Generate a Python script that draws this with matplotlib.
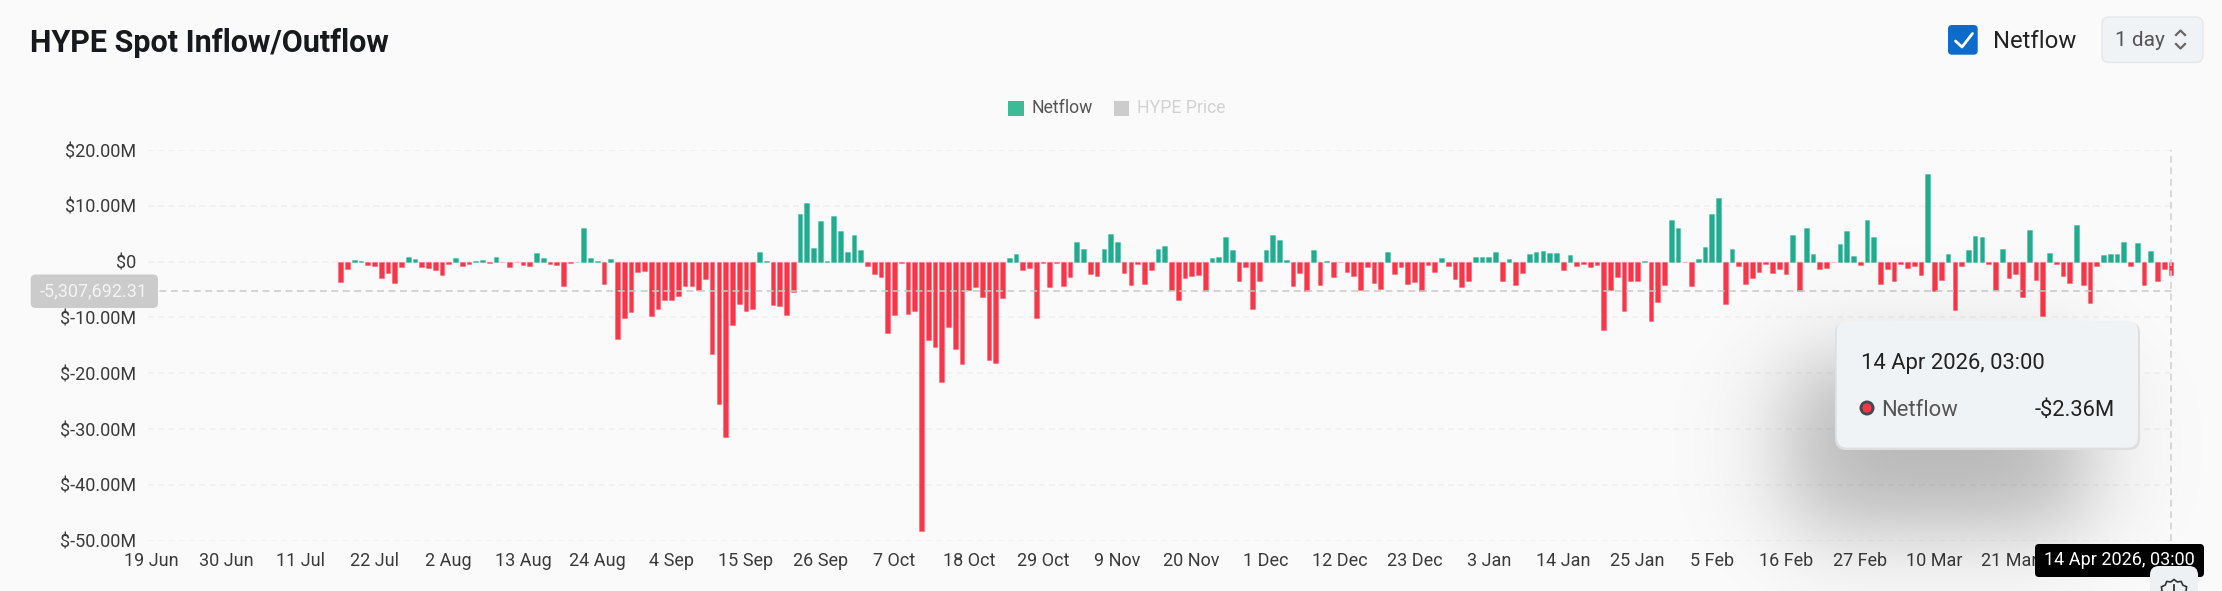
import numpy as np
import pandas as pd
import matplotlib
matplotlib.use("Agg")
import matplotlib.pyplot as plt
import matplotlib.dates as mdates
from matplotlib.patches import FancyBboxPatch, Rectangle, Circle, Polygon

plt.rcParams['font.family'] = ['Roboto', 'DejaVu Sans']

# daily netflow in $M, 17 Jul 2025 -> 14 Apr 2026
netflow = [
    -3.7, -1.4, 0.25, 0.15, -0.65, -0.7, -2.9, -2.0, -3.8, -0.95,
    0.8, 0.55, -0.95, -1.2, -1.45, -2.4, -0.5, 0.7, -0.8, -0.35,
    0.2, 0.25, -0.3, 0.8, -0.1, -0.9, -0.05, -0.6, -0.7, 1.5,
    0.7, -0.4, -0.65, -4.4, -0.25, 0.02, 6.1, 0.6, 0.1, -3.95,
    0.5, -13.85, -10.15, -9.1, -1.85, -1.6, -9.7, -8.5, -6.9, -6.85,
    -6.2, -4.3, -4.3, -5.1, -3.2, -16.6, -25.5, -31.4, -11.4, -7.65,
    -8.85, -8.5, 1.75, 0.05, -7.75, -7.95, -9.5, -5.4, 8.6, 10.55,
    2.5, 7.35, 0.2, 8.2, 5.45, 1.75, 4.85, 2.0, -0.85, -2.15,
    -2.7, -12.85, -9.65, -0.25, -9.3, -8.85, -48.2, -14.0, -15.35, -21.5,
    -11.8, -15.7, -18.4, -5.15, -4.5, -6.35, -17.6, -18.15, -6.6, 0.6,
    1.35, -1.55, -1.2, -10.1, -0.3, -4.55, -0.2, -4.3, -2.8, 3.5,
    2.35, -2.15, -2.5, 2.2, 5.0, 3.6, -2.0, -4.1, -0.5, -4.05,
    -1.5, 2.25, 2.85, -5.0, -6.8, -3.0, -2.5, -2.35, -5.35, 0.65,
    0.85, 4.5, 2.0, -3.45, -0.95, -8.4, -3.5, 2.15, 4.7, 3.95,
    0.25, -4.35, -2.0, -5.35, 2.15, -4.1, 0.1, -2.75, -0.05, -1.9,
    -2.5, -5.15, -0.95, -3.75, -4.9, 1.65, -2.15, -0.9, -3.95, -3.7,
    -5.3, -0.6, -1.8, 0.65, -0.8, -3.1, -4.55, -3.5, 0.8, 0.8,
    0.8, 1.8, -3.5, 0.5, -4.25, -2.0, 1.45, 1.7, 1.9, 1.6,
    1.5, -1.45, 1.1, -0.75, -0.5, -1.0, -0.55, -12.3, -5.1, -2.8,
    -8.8, -3.45, -3.4, 0.1, -10.6, -7.15, -4.25, 7.4, 6.1, -0.1,
    -4.45, 0.4, 2.6, 8.5, 11.45, -7.6, 2.25, -0.85, -4.0, -2.85,
    -1.8, -0.4, -2.1, -1.4, -2.25, 4.8, -5.35, 5.95, 1.3, -1.4,
    -1.15, -0.1, 3.2, 5.4, 1.05, -0.6, 7.5, 4.4, -4.0, -1.25,
    -3.45, -0.4, -1.1, -0.75, -2.35, 15.65, -5.35, -3.3, 1.4, -8.65,
    -0.75, 2.05, 4.55, 4.5, -0.35, -5.05, 2.2, -2.9, -2.25, -6.25,
    5.75, -3.25, -9.7, 1.5, -0.35, -2.65, -3.9, 6.6, -4.15, -7.5,
    -0.75, 1.1, 1.35, 1.3, 3.6, -0.85, 3.4, -4.25, 1.95, -3.5,
    -1.4, -2.36,
]
y_ticks = [20, 10, 0, -10, -20, -30, -40, -50]
y_labels = ['$20.00M', '$10.00M', '$0', '$-10.00M', '$-20.00M', '$-30.00M', '$-40.00M', '$-50.00M']
x_ticks = ['2025-06-19', '2025-06-30', '2025-07-11', '2025-07-22', '2025-08-02', '2025-08-13',
           '2025-08-24', '2025-09-04', '2025-09-15', '2025-09-26', '2025-10-07', '2025-10-18',
           '2025-10-29', '2025-11-09', '2025-11-20', '2025-12-01', '2025-12-12', '2025-12-23',
           '2026-01-03', '2026-01-14', '2026-01-25', '2026-02-05', '2026-02-16', '2026-02-27',
           '2026-03-10', '2026-03-21']
last_day = '2026-04-14'
cursor_value = -5.30769231

W, H = 2222, 591
BG = '#fafafa'
GREEN = '#20ad8e'
RED = '#f73649'
TICK = '#3a3a3a'

fig = plt.figure(figsize=(W / 100, H / 100), dpi=100, facecolor=BG)

# plot area in pixels
left, right, top, bottom = 148, 2174, 150, 540.7
ax = fig.add_axes([left / W, 1 - bottom / H, (right - left) / W, (bottom - top) / H], facecolor='none')

dates = pd.date_range(end=last_day, periods=len(netflow))
xs = mdates.date2num(dates)
vals = np.array(netflow)
cols = [GREEN if v >= 0 else RED for v in vals]
edges = [(0.13, 0.68, 0.56, 0.3) if v >= 0 else (0.97, 0.21, 0.29, 0.3) for v in vals]

ax.bar(xs, vals, width=0.7, color=cols, edgecolor=edges, linewidth=0.8, zorder=3)

px_per_day = 6.754
ax.set_xlim(xs[-1] + (left - 2171) / px_per_day, xs[-1] + (right - 2171) / px_per_day)
ax.set_ylim(-50, 20)

ax.set_yticks(y_ticks)
ax.set_yticklabels(y_labels)
tick_days = pd.to_datetime(x_ticks)
ax.set_xticks(mdates.date2num(tick_days))
ax.set_xticklabels([f"{d.day} {d.strftime('%b')}" for d in tick_days])
ax.tick_params(axis='both', length=0, labelsize=13, labelcolor=TICK)
ax.tick_params(axis='y', pad=8.5)
ax.tick_params(axis='x', pad=8)
for s in ax.spines.values():
    s.set_visible(False)
ax.grid(axis='y', color='#efefef', linewidth=1.1, linestyle=(0, (4, 2.7)), zorder=0)
ax.set_axisbelow(True)

# hover crosshair
ax.axhline(cursor_value, color='#c9c9c9', linewidth=1.1, linestyle=(0, (4.5, 3)), zorder=4)
ax.axvline(xs[-1], color='#cfcfcf', linewidth=1.1, linestyle=(0, (4.5, 3)), zorder=4)

# everything else is page furniture, drawn in pixel coords on a full size overlay
ov = fig.add_axes([0, 0, 1, 1], facecolor='none', zorder=5)
ov.axis('off')

# big blurry tooltip shadow
gx, gy = np.meshgrid(np.arange(1500, W), np.arange(230, H))
s = 56.0
sx = 0.5 * (np.tanh((gx - 1790) / s) - np.tanh((gx - 2085) / s))
sy = 0.5 * (np.tanh((gy - 365) / s) - np.tanh((gy - 525) / s))
shadow = np.zeros(gx.shape + (4,))
shadow[..., 3] = 0.29 * sx * sy
ov.imshow(shadow, extent=(1500, W, H, 230), aspect='auto', zorder=1, interpolation='bilinear')

ov.set_xlim(0, W)
ov.set_ylim(H, 0)


def box(x0, y0, x1, y1, fc, ec='none', r=6, z=2, lw=1.0):
    p = FancyBboxPatch((x0, y0), x1 - x0, y1 - y0, boxstyle=f"round,pad=0,rounding_size={r}",
                       fc=fc, ec=ec, lw=lw, zorder=z)
    ov.add_patch(p)


# title and top right controls
ov.text(30.5, 43.5, 'HYPE Spot Inflow/Outflow', fontsize=22, fontweight='bold', color='#17191c', va='center', ha='left')
box(1948, 25, 1977.7, 54.7, '#0d6bcb', r=4)
ov.plot([1955.5, 1962, 1972.5], [41, 47, 33.5], color='white', lw=2, solid_capstyle='round', zorder=3)
ov.text(1993, 42, 'Netflow', fontsize=17.2, color='#222222', va='center', ha='left')
box(2102, 17, 2203, 62.5, '#f0f3f6', ec='#e4e7eb', r=7)
ov.text(2115, 41, '1 day', fontsize=15, color='#555555', va='center', ha='left')
ov.plot([2176, 2180.5, 2185], [35, 30.5, 35], color='#666666', lw=1.6, zorder=3)
ov.plot([2176, 2180.5, 2185], [44, 48.5, 44], color='#666666', lw=1.6, zorder=3)

# legend
ov.add_patch(Rectangle((1008, 101), 15.5, 15, fc='#3cbb97', ec='none', zorder=3))
ov.text(1031.5, 108, 'Netflow', fontsize=12.7, color='#555555', va='center', ha='left')
ov.add_patch(Rectangle((1113.5, 101), 15.5, 15, fc='#cccccc', ec='none', zorder=3))
ov.text(1137, 108, 'HYPE Price', fontsize=12.7, color='#d2d2d2', va='center', ha='left')

# y cursor label
box(30.7, 274.5, 158, 308, '#cbcbcb', r=5)
ov.text(94, 291, '-5,307,692.31', fontsize=13, color='#f4f4f4', va='center', ha='center')

# tooltip
box(1835, 322, 2140, 450, '#dcdee0', r=11, z=2)
box(1836.7, 320.7, 2138, 447.7, '#f0f3f6', r=11, z=3)
ov.text(1861, 364, '14 Apr 2026, 03:00', fontsize=15.8, color='#222222', va='center', ha='left', zorder=4)
ov.add_patch(Circle((1867, 408), 7.5, fc='#45484c', ec='none', zorder=4))
ov.add_patch(Circle((1867, 408), 4.6, fc=RED, ec='none', zorder=5))
ov.text(1881.5, 410, 'Netflow', fontsize=15.8, color='#555555', va='center', ha='left', zorder=4)
ov.text(2115, 410, '-$2.36M', fontsize=15.8, color='#222222', va='center', ha='right', zorder=4)

# x cursor label and the small button under it
box(2035, 544, 2204, 577, '#000000', r=4, z=3)
ov.text(2119.5, 560, '14 Apr 2026, 03:00', fontsize=13, color='white', va='center', ha='center', zorder=4)
box(2150, 566, 2198, 610, '#eef1f4', r=9, z=5)
ang = np.linspace(0, 2 * np.pi, 24, endpoint=False)
rad = np.where(np.arange(24) % 2 == 0, 14.5, 12.5)
ov.add_patch(Polygon(np.column_stack([2174 + rad * np.sin(ang), 594 + rad * np.cos(ang)]),
                     closed=True, fc='none', ec='#333333', lw=1.2, zorder=6))
ov.plot([2174, 2174], [585, 591], color='#333333', lw=1.3, zorder=6)

fig.savefig('out.png', dpi=100, facecolor=BG)
